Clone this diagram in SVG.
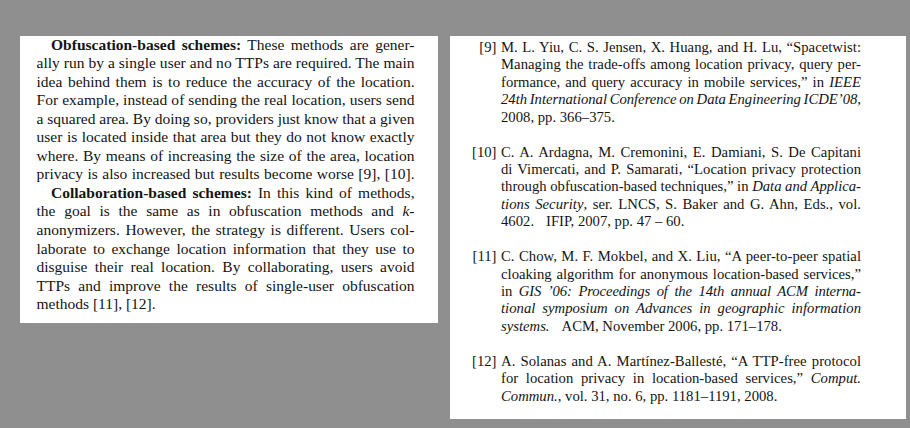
<svg xmlns="http://www.w3.org/2000/svg" width="910" height="428" viewBox="0 0 910 428">
<style>
.t{font-family:"Liberation Serif","Times New Roman",serif;fill:#141414}
.l{font-size:15.5px}
.r{font-size:14.7px}
.b{font-weight:bold}
.i{font-style:italic}
.panel{fill:#ffffff}
</style>
<rect x="0" y="0" width="910" height="428" fill="#8f8f8f"/>
<g id="left-panel">
<rect class="panel" x="20" y="36" width="418" height="287"/>
<text class="t l" x="51" y="49.5" textLength="363.5" lengthAdjust="spacing" style="word-spacing:2.5px"><tspan class="b">Obfuscation-based schemes:</tspan> These methods are gener-</text>
<text class="t l" x="36.5" y="68" textLength="378" lengthAdjust="spacing">ally run by a single user and no TTPs are required. The main</text>
<text class="t l" x="36.5" y="86.6" textLength="378" lengthAdjust="spacing" style="word-spacing:1.7px">idea behind them is to reduce the accuracy of the location.</text>
<text class="t l" x="36.5" y="105.1" textLength="378" lengthAdjust="spacing">For example, instead of sending the real location, users send</text>
<text class="t l" x="36.5" y="123.7" textLength="378" lengthAdjust="spacing">a squared area. By doing so, providers just know that a given</text>
<text class="t l" x="36.5" y="142.2" textLength="378" lengthAdjust="spacing" style="word-spacing:0.6px">user is located inside that area but they do not know exactly</text>
<text class="t l" x="36.5" y="160.8" textLength="378" lengthAdjust="spacing" style="word-spacing:0.8px">where. By means of increasing the size of the area, location</text>
<text class="t l" x="36.5" y="179.3" textLength="378" lengthAdjust="spacing" style="word-spacing:0.6px">privacy is also increased but results become worse [9], [10].</text>
<text class="t l" x="51" y="197.9" textLength="363.5" lengthAdjust="spacing" style="word-spacing:2.2px"><tspan class="b">Collaboration-based schemes:</tspan> In this kind of methods,</text>
<text class="t l" x="36.5" y="216.4" textLength="378" lengthAdjust="spacing" style="word-spacing:4.8px">the goal is the same as in obfuscation methods and <tspan class="i">k</tspan>-</text>
<text class="t l" x="36.5" y="235" textLength="378" lengthAdjust="spacing" style="word-spacing:1.7px">anonymizers. However, the strategy is different. Users col-</text>
<text class="t l" x="36.5" y="253.5" textLength="378" lengthAdjust="spacing" style="word-spacing:2.6px">laborate to exchange location information that they use to</text>
<text class="t l" x="36.5" y="272.1" textLength="378" lengthAdjust="spacing" style="word-spacing:3.5px">disguise their real location. By collaborating, users avoid</text>
<text class="t l" x="36.5" y="290.6" textLength="378" lengthAdjust="spacing" style="word-spacing:4.4px">TTPs and improve the results of single-user obfuscation</text>
<text class="t l" x="36.5" y="309.2">methods [11], [12].</text>
</g>
<g id="right-panel">
<rect class="panel" x="450" y="36" width="456" height="383"/>
<g id="ref-9">
<text class="t r" x="496.5" y="52" text-anchor="end">[9]</text>
<text class="t r" x="501" y="52" textLength="360" lengthAdjust="spacing" style="word-spacing:0.9px">M. L. Yiu, C. S. Jensen, X. Huang, and H. Lu, “Spacetwist:</text>
<text class="t r" x="501" y="69.4" textLength="360" lengthAdjust="spacing" style="word-spacing:1px">Managing the trade-offs among location privacy, query per-</text>
<text class="t r" x="501" y="86.8" textLength="360" lengthAdjust="spacing" style="word-spacing:1.5px">formance, and query accuracy in mobile services,” in <tspan class="i">IEEE</tspan></text>
<text class="t r" x="501" y="104.2" textLength="360" lengthAdjust="spacing" style="word-spacing:-1px"><tspan class="i">24th International Conference on Data Engineering ICDE’08</tspan>,</text>
<text class="t r" x="501" y="121.6">2008, pp. 366–375.</text>
</g>
<g id="ref-10">
<text class="t r" x="496.5" y="156.6" text-anchor="end">[10]</text>
<text class="t r" x="501" y="156.6" textLength="360" lengthAdjust="spacing" style="word-spacing:1.8px">C. A. Ardagna, M. Cremonini, E. Damiani, S. De Capitani</text>
<text class="t r" x="501" y="174" textLength="360" lengthAdjust="spacing" style="word-spacing:1.4px">di Vimercati, and P. Samarati, “Location privacy protection</text>
<text class="t r" x="501" y="191.4" textLength="360" lengthAdjust="spacing" style="word-spacing:0px">through obfuscation-based techniques,” in <tspan class="i">Data and Applica-</tspan></text>
<text class="t r" x="501" y="208.8" textLength="360" lengthAdjust="spacing" style="word-spacing:1.8px"><tspan class="i">tions Security</tspan>, ser. LNCS, S. Baker and G. Ahn, Eds., vol.</text>
<text class="t r" x="501" y="226.2">4602.<tspan dx="12">IFIP, 2007, pp. 47 – 60.</tspan></text>
</g>
<g id="ref-11">
<text class="t r" x="496.5" y="261.2" text-anchor="end">[11]</text>
<text class="t r" x="501" y="261.2" textLength="360" lengthAdjust="spacing" style="word-spacing:0.6px">C. Chow, M. F. Mokbel, and X. Liu, “A peer-to-peer spatial</text>
<text class="t r" x="501" y="278.6" textLength="360" lengthAdjust="spacing" style="word-spacing:1.1px">cloaking algorithm for anonymous location-based services,”</text>
<text class="t r" x="501" y="296" textLength="360" lengthAdjust="spacing" style="word-spacing:3px">in <tspan class="i">GIS ’06: Proceedings of the 14th annual ACM interna-</tspan></text>
<text class="t r" x="501" y="313.4" textLength="360" lengthAdjust="spacing" style="word-spacing:3.2px"><tspan class="i">tional symposium on Advances in geographic information</tspan></text>
<text class="t r" x="501" y="330.8"><tspan class="i">systems.</tspan><tspan dx="12">ACM, November 2006, pp. 171–178.</tspan></text>
</g>
<g id="ref-12">
<text class="t r" x="496.5" y="365.8" text-anchor="end">[12]</text>
<text class="t r" x="501" y="365.8" textLength="360" lengthAdjust="spacing" style="word-spacing:1.4px">A. Solanas and A. Martínez-Ballesté, “A TTP-free protocol</text>
<text class="t r" x="501" y="383.2" textLength="360" lengthAdjust="spacing" style="word-spacing:4px">for location privacy in location-based services,” <tspan class="i">Comput.</tspan></text>
<text class="t r" x="501" y="400.6"><tspan class="i">Commun.</tspan>, vol. 31, no. 6, pp. 1181–1191, 2008.</text>
</g>
</g>
</svg>
